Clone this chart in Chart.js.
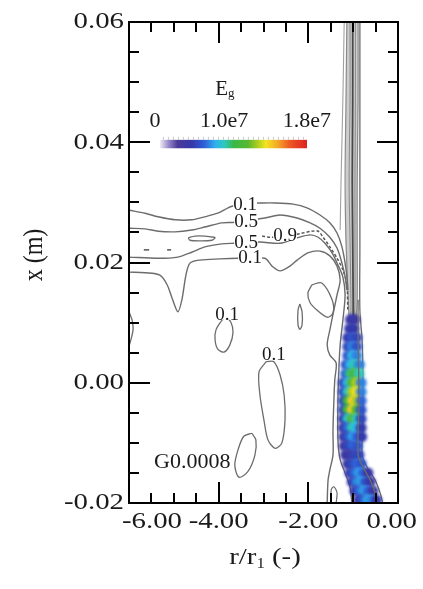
<!DOCTYPE html>
<html>
<head>
<meta charset="utf-8">
<script src="https://cdn.jsdelivr.net/npm/chart.js@4.4.1/dist/chart.umd.min.js"></script>
<style>
  html, body { margin: 0; padding: 0; background: #fff; }
  canvas { display: block; }
</style>
</head>
<body>
<canvas id="grafico" width="423" height="589"></canvas>
<script>
// ejes
const xTickValues = [-6, -4, -2, 0];
const xTickLabels = ["-6.00", "-4.00", "-2.00", "0.00"];
const yTickValues = [0.06, 0.04, 0.02, 0.00, -0.02];
const yTickLabels = ["0.06", "0.04", "0.02", "0.00", "-0.02"];

// contornos (r/r1, x en m)
const top01R = [-6.00, -5.64, -5.35, -4.97, -4.60, -4.31, -4.02, -3.79, -3.68, -3.41, -3.12, -2.74, -2.34, -2.03, -1.74, -1.52, -1.36, -1.25, -1.18, -1.14, -1.12];
const top01X = [0.0287, 0.0282, 0.0276, 0.0271, 0.0271, 0.0276, 0.0282, 0.0291, 0.0294, 0.0299, 0.0299, 0.0299, 0.0297, 0.0291, 0.0279, 0.0266, 0.0249, 0.0226, 0.0199, 0.0176, 0.0154];

const up05R = [-6.00, -5.64, -5.35, -4.97, -4.60, -4.31, -3.93, -3.64, -2.97, -2.63, -2.25, -1.96, -1.74, -1.52, -1.36, -1.25, -1.18, -1.14];
const up05X = [0.0257, 0.0256, 0.0252, 0.0251, 0.0254, 0.0259, 0.0266, 0.0267, 0.0274, 0.0279, 0.0274, 0.0266, 0.0257, 0.0242, 0.0224, 0.0199, 0.0176, 0.0154];

const lo05R = [-6.00, -5.35, -4.91, -4.60, -4.31, -3.93, -3.64, -3.08, -2.63, -2.25, -1.96, -1.78, -1.63, -1.47, -1.34, -1.23, -1.18, -1.23, -1.29, -1.32, -1.34, -1.34, -1.29, -1.18, -1.07, -1.03];
const lo05X = [0.0209, 0.0207, 0.0209, 0.0217, 0.0226, 0.0231, 0.0232, 0.0234, 0.0232, 0.0241, 0.0246, 0.0242, 0.0232, 0.0216, 0.0196, 0.0176, 0.0146, 0.0104, 0.0063, 0.0021, -0.0029, -0.0095, -0.0128, -0.0150, -0.0173, -0.0200];

const lo01R = [-6.00, -5.64, -5.31, -5.15, -5.04, -4.91, -4.82, -4.73, -4.64, -4.42, -3.97, -3.57, -2.97, -2.81, -2.63, -2.41, -2.25, -2.01, -1.74, -1.52, -1.36, -1.29, -1.36, -1.43, -1.52, -1.58, -1.52, -1.38, -1.41, -1.43, -1.45, -1.45, -1.52, -1.56, -1.58];
const lo01X = [0.0184, 0.0183, 0.0179, 0.0163, 0.0141, 0.0118, 0.0138, 0.0179, 0.0199, 0.0204, 0.0206, 0.0207, 0.0207, 0.0194, 0.0186, 0.0194, 0.0204, 0.0216, 0.0219, 0.0211, 0.0194, 0.0171, 0.0146, 0.0121, 0.0088, 0.0063, 0.0046, 0.0033, 0.0005, -0.0029, -0.0079, -0.0120, -0.0145, -0.0162, -0.0200];

const c09R = [-3.03, -2.86, -2.57, -2.19, -1.92, -1.78, -1.67, -1.52, -1.36, -1.23, -1.14, -1.12];
const c09X = [0.0244, 0.0242, 0.0242, 0.0248, 0.0252, 0.0252, 0.0242, 0.0226, 0.0207, 0.0188, 0.0163, 0.0121];

const ell0R = [-4.68, -4.53, -4.31, -4.10, -4.08, -4.15, -4.42, -4.64, -4.68];
const ell0X = [0.0241, 0.0244, 0.0244, 0.0242, 0.0241, 0.0237, 0.0236, 0.0237, 0.0241];

const dash1R = [-5.67, -5.55];
const dash1X = [0.0221, 0.0221];
const dash2R = [-5.15, -5.06];
const dash2X = [0.0221, 0.0221];

const isleR = [-1.92, -1.70, -1.47, -1.45, -1.58, -1.81, -1.96, -2.01, -1.92];
const isleX = [0.0163, 0.0166, 0.0138, 0.0116, 0.0109, 0.0121, 0.0133, 0.0149, 0.0163];

const thinR = [-2.19, -2.14, -2.14, -2.19, -2.23, -2.23, -2.19];
const thinX = [0.0131, 0.0118, 0.0096, 0.0089, 0.0096, 0.0121, 0.0131];

const ell1R = [-3.93, -4.06, -4.08, -4.02, -3.88, -3.75, -3.68, -3.73, -3.84, -3.93];
const ell1X = [0.0104, 0.0088, 0.0071, 0.0056, 0.0051, 0.0063, 0.0084, 0.0101, 0.0108, 0.0104];

const ell2R = [-2.94, -3.10, -3.08, -2.99, -2.90, -2.74, -2.59, -2.52, -2.54, -2.63, -2.77, -2.94];
const ell2X = [0.0035, 0.0018, -0.0020, -0.0062, -0.0095, -0.0109, -0.0100, -0.0062, -0.0020, 0.0013, 0.0035, 0.0035];

const ell3R = [-3.26, -3.44, -3.57, -3.64, -3.55, -3.35, -3.19, -3.17, -3.26];
const ell3X = [-0.0084, -0.0089, -0.0112, -0.0137, -0.0157, -0.0148, -0.0120, -0.0095, -0.0084];

const edgeR = [-6.00, -5.93, -5.91, -5.96, -6.00];
const edgeX = [0.0118, 0.0104, 0.0088, 0.0071, 0.0061];

const outR = [-1.20, -1.23, -1.27, -1.29];
const outX = [0.0600, 0.0470, 0.0337, 0.0254];

const rOutR = [-0.85, -0.85, -0.85, -0.85, -0.80, -0.78, -0.78, -0.80, -0.69, -0.51, -0.40, -0.34];
const rOutX = [0.0600, 0.0387, 0.0221, 0.0121, 0.0071, 0.0005, -0.0062, -0.0120, -0.0140, -0.0162, -0.0183, -0.0200];

const rInR = [-0.89, -0.89, -0.87, -0.89, -0.78, -0.62, -0.51, -0.47];
const rInX = [0.0138, 0.0071, -0.0029, -0.0120, -0.0140, -0.0162, -0.0183, -0.0200];

const dR = [-1.49, -1.49, -1.43, -1.36, -1.38];
const dX = [-0.0200, -0.0178, -0.0173, -0.0183, -0.0200];

// banda vertical cerca de r/r1 = -1
const bandX = [0.0605, 0.0470, 0.0337, 0.0237, 0.0138, 0.0104];
const band1R = [-1.14, -1.16, -1.18, -1.16, -1.11, -1.09];
const band2R = [-1.07, -1.07, -1.09, -1.07, -1.05, -1.05];
const band3R = [-1.01, -1.01, -1.02, -1.01, -1.00, -1.00];
const band4R = [-0.95, -0.95, -0.96, -0.96, -0.96, -0.97];
const band5R = [-0.89, -0.89, -0.91, -0.91, -0.91, -0.94];

// celdas de E_g (en 1e7), filas en x, paso 0.1 en r
const blobX  = [0.0105, 0.0090, 0.0075, 0.0060, 0.0045, 0.0030, 0.0015, 0.0000, -0.0015, -0.0030, -0.0045, -0.0060, -0.0075, -0.0090, -0.0105, -0.0120, -0.0135, -0.0150, -0.0165, -0.0180, -0.0195];
const blobR0 = [-1.06, -1.08, -1.12, -1.12, -1.12, -1.16, -1.17, -1.22, -1.22, -1.22, -1.22, -1.22, -1.22, -1.21, -1.20, -1.17, -1.12, -1.07, -1.02, -0.96, -0.88];
const blobE  = [
  [0.35, 0.35],
  [0.40, 0.40],
  [0.40, 0.50, 0.45],
  [0.45, 0.60, 0.50],
  [0.50, 0.70, 0.60],
  [0.50, 0.70, 0.80, 0.60],
  [0.55, 0.85, 1.00, 0.80],
  [0.45, 0.70, 1.05, 1.20, 0.60],
  [0.45, 0.75, 1.20, 1.30, 0.60],
  [0.45, 0.90, 1.35, 1.20, 0.55],
  [0.45, 0.95, 1.35, 1.05, 0.50],
  [0.40, 0.75, 1.05, 0.80, 0.45],
  [0.35, 0.55, 0.80, 0.70, 0.40],
  [0.35, 0.50, 0.65, 0.55, 0.40],
  [0.30, 0.45, 0.55, 0.50],
  [0.35, 0.30, 0.45, 0.45],
  [0.35, 0.45, 0.55, 0.50],
  [0.40, 0.55, 0.65, 0.55, 0.35],
  [0.40, 0.60, 0.65, 0.50, 0.35],
  [0.40, 0.55, 0.65, 0.55, 0.35],
  [0.35, 0.50, 0.65, 0.60, 0.40]
];
const eMax = 1.8;

// etiquetas de contorno
const etiquetas = ["0.1", "0.5", "0.5", "0.9", "0.1", "0.1", "0.1"];
const etiquetasR = [-3.41, -3.39, -3.39, -2.52, -3.30, -3.81, -2.77];
const etiquetasX = [0.0296, 0.0267, 0.0232, 0.0244, 0.0207, 0.0113, 0.0046];

// barra de color
const cbarLabels = ["0", "1.0e7", "1.8e7"];
const cbarLabelR = [-5.42, -3.88, -2.03];

const cmap = [
  [0.00, [240, 236, 246]], [0.06, [150, 135, 200]], [0.12, [74, 58, 152]], [0.22, [52, 56, 170]],
  [0.30, [47, 95, 216]], [0.38, [46, 180, 236]], [0.44, [46, 200, 190]], [0.50, [56, 184, 72]],
  [0.60, [90, 184, 48]], [0.66, [168, 204, 32]], [0.72, [242, 228, 34]], [0.80, [244, 168, 40]],
  [0.88, [236, 90, 36]], [1.00, [222, 32, 32]]
];

function colorEn(f) {
  f = Math.max(0, Math.min(1, f));
  for (let i = 1; i < cmap.length; i++) {
    if (f <= cmap[i][0]) {
      const [f0, c0] = cmap[i - 1];
      const [f1, c1] = cmap[i];
      const t = (f - f0) / (f1 - f0);
      const c = c0.map((v, k) => Math.round(v + (c1[k] - v) * t));
      return `rgb(${c[0]},${c[1]},${c[2]})`;
    }
  }
  return "rgb(222,32,32)";
}

function linea(rs, xs, color, ancho, extra) {
  return Object.assign({
    data: rs.map((r, i) => ({ x: r, y: xs[i] })),
    showLine: true,
    borderColor: color,
    borderWidth: ancho,
    pointRadius: 0,
    pointHoverRadius: 0,
    tension: 0.3,
    fill: false,
    clip: 0
  }, extra || {});
}

const celdas = [];
blobX.forEach((x, i) => {
  blobE[i].forEach((e, j) => celdas.push({ x: blobR0[i] + j * 0.1, y: x, e: e }));
});

const gris = "#6c6c6c";
const datasets = [
  linea(rInR, rInX, gris, 1.3),
  {
    label: "blob",
    data: celdas,
    showLine: false,
    pointRadius: 5.5,
    pointHoverRadius: 5.5,
    pointBorderWidth: 0,
    backgroundColor: c => (c.raw ? colorEn(c.raw.e / eMax) : "#000"),
    clip: 0
  },
  linea(top01R, top01X, gris, 1.4),
  linea(up05R, up05X, gris, 1.4),
  linea(lo05R, lo05X, gris, 1.4),
  linea(lo01R, lo01X, gris, 1.4),
  linea(c09R, c09X, "#555", 1.5, { borderDash: [3, 2] }),
  linea(ell0R, ell0X, gris, 1.3),
  linea(dash1R, dash1X, "#555", 1.5, { tension: 0 }),
  linea(dash2R, dash2X, "#555", 1.5, { tension: 0 }),
  linea(isleR, isleX, gris, 1.3),
  linea(thinR, thinX, gris, 1.3),
  linea(ell1R, ell1X, gris, 1.3),
  linea(ell2R, ell2X, gris, 1.3),
  linea(ell3R, ell3X, gris, 1.3),
  linea(edgeR, edgeX, gris, 1.3),
  linea(outR, outX, "#a0a0a0", 1.1),
  linea(rOutR, rOutX, gris, 1.3),
  linea(dR, dX, gris, 1.2),
  linea(band1R, bandX, "#8a8a8a", 1.2),
  linea(band2R, bandX, "#8a8a8a", 1),
  linea(band3R, bandX, "#4a4a4a", 1.8),
  linea(band4R, bandX, "#8a8a8a", 1),
  linea(band5R, bandX, "#8a8a8a", 1.2),
  linea(band1R.concat(band5R.slice().reverse()), bandX.concat(bandX.slice().reverse()), "rgba(0,0,0,0)", 0,
    { fill: "shape", backgroundColor: "#cdcdcd", tension: 0 })
];

function escribir(ctx, str, x, y, size, align, sx, base) {
  ctx.save();
  ctx.translate(x, y);
  ctx.scale(sx, 1);
  ctx.font = size + 'px "Liberation Serif", "Times New Roman", serif';
  ctx.textAlign = align;
  ctx.textBaseline = base || "middle";
  ctx.fillStyle = "#1a1a1a";
  ctx.fillText(str, 0, 0);
  ctx.restore();
}

function ancho(ctx, str, size, sx) {
  ctx.save();
  ctx.font = size + 'px "Liberation Serif", "Times New Roman", serif';
  const w = ctx.measureText(str).width * sx;
  ctx.restore();
  return w;
}

// difumina las celdas como en la figura original
const difuso = {
  id: "difuso",
  beforeDatasetDraw(chart, args) {
    if (args.meta._dataset.label === "blob") {
      chart.ctx.save();
      chart.ctx.filter = "blur(1.6px)";
    }
  },
  afterDatasetDraw(chart, args) {
    if (args.meta._dataset.label === "blob") chart.ctx.restore();
  }
};

const marco = {
  id: "marco",
  afterDatasetsDraw(chart) {
    const { ctx, chartArea: a, scales } = chart;
    const sx = scales.x, sy = scales.y;

    // etiquetas de contorno
    etiquetas.forEach((t, i) => {
      const px = sx.getPixelForValue(etiquetasR[i]);
      const py = sy.getPixelForValue(etiquetasX[i]);
      const w = ancho(ctx, t, 19, 1);
      ctx.fillStyle = "#fff";
      ctx.fillRect(px - w / 2, py - 5, w, 10);
      escribir(ctx, t, px, py, 19, "center", 1);
    });
    escribir(ctx, "G0.0008", sx.getPixelForValue(-4.59), sy.getPixelForValue(-0.0133), 22, "center", 1);

    // barra de color
    const b0 = sx.getPixelForValue(-5.31), b1 = sx.getPixelForValue(-2.03);
    const bt = sy.getPixelForValue(0.0404), bb = sy.getPixelForValue(0.0390);
    const grad = ctx.createLinearGradient(b0, 0, b1, 0);
    cmap.forEach(([f, c]) => grad.addColorStop(f, `rgb(${c[0]},${c[1]},${c[2]})`));
    ctx.fillStyle = grad;
    ctx.fillRect(b0, bt, b1 - b0, bb - bt);
    ctx.strokeStyle = "#c8c8c8";
    ctx.lineWidth = 1;
    for (let p = b0 + 3; p <= b1; p += 5) {
      ctx.beginPath();
      ctx.moveTo(p + 0.5, bt - 3);
      ctx.lineTo(p + 0.5, bt);
      ctx.stroke();
    }
    const yl = sy.getPixelForValue(0.0435);
    cbarLabels.forEach((t, i) => escribir(ctx, t, sx.getPixelForValue(cbarLabelR[i]), yl, 22, "center", 1));
    const ex = sx.getPixelForValue(-3.79), ey = sy.getPixelForValue(0.0487);
    escribir(ctx, "E", ex, ey, 21, "right", 1);
    escribir(ctx, "g", ex, ey + 4, 13, "left", 1);

    // marco y marcas hacia dentro
    ctx.save();
    ctx.strokeStyle = "#000";
    ctx.lineWidth = 2;
    ctx.strokeRect(a.left, a.top, a.right - a.left, a.bottom - a.top);
    ctx.beginPath();
    for (let i = 0; i <= 12; i++) {
      const px = Math.round(sx.getPixelForValue(-6 + i * 0.5));
      const len = i % 4 === 0 ? 21 : 10;
      ctx.moveTo(px, a.bottom); ctx.lineTo(px, a.bottom - len);
      ctx.moveTo(px, a.top); ctx.lineTo(px, a.top + len);
    }
    for (let i = 0; i <= 16; i++) {
      const py = Math.round(sy.getPixelForValue(-0.02 + i * 0.005));
      const len = i % 4 === 0 ? 21 : 10;
      ctx.moveTo(a.left, py); ctx.lineTo(a.left + len, py);
      ctx.moveTo(a.right, py); ctx.lineTo(a.right - len, py);
    }
    ctx.stroke();
    ctx.restore();
  },
  afterDraw(chart) {
    const { ctx, chartArea: a, scales } = chart;
    const sx = scales.x, sy = scales.y;
    const k = 1.2, fs = 24;

    yTickValues.forEach((v, i) => {
      escribir(ctx, yTickLabels[i], a.left - 5, sy.getPixelForValue(v), fs, "right", k);
    });
    xTickValues.forEach((v, i) => {
      const w = ancho(ctx, xTickLabels[i], fs, k);
      let cx = sx.getPixelForValue(v);
      cx = Math.max(a.left - 7 + w / 2, Math.min(a.right + 19 - w / 2, cx));
      escribir(ctx, xTickLabels[i], cx, a.bottom + 19, fs, "center", k);
    });

    // titulo eje x: r/r1 (-)
    const base = a.bottom + 61;
    const w1 = ancho(ctx, "r/r", fs, k), w2 = ancho(ctx, "1", 14, k), w3 = ancho(ctx, " (-)", fs, k);
    let x0 = 265 - (w1 + w2 + w3) / 2;
    escribir(ctx, "r/r", x0, base, fs, "left", k, "alphabetic");
    escribir(ctx, "1", x0 + w1, base + 4, 14, "left", k, "alphabetic");
    escribir(ctx, " (-)", x0 + w1 + w2, base, fs, "left", k, "alphabetic");

    // titulo eje y: x (m)
    ctx.save();
    ctx.translate(35, 255);
    ctx.scale(1.1, 1);
    ctx.rotate(-Math.PI / 2);
    ctx.font = '24px "Liberation Serif", "Times New Roman", serif';
    ctx.textAlign = "center";
    ctx.textBaseline = "middle";
    ctx.fillStyle = "#1a1a1a";
    ctx.fillText("x (m)", 0, 0);
    ctx.restore();
  }
};

new Chart(document.getElementById("grafico"), {
  type: "scatter",
  data: { datasets: datasets },
  options: {
    responsive: false,
    animation: false,
    devicePixelRatio: 1,
    layout: { padding: { left: 0, right: 25, top: 22, bottom: 0 } },
    plugins: { legend: { display: false }, tooltip: { enabled: false } },
    events: [],
    scales: {
      x: {
        type: "linear", min: -6, max: 0,
        grid: { display: false }, border: { display: false },
        ticks: { display: false },
        afterFit(s) { s.height = 86; }
      },
      y: {
        type: "linear", min: -0.02, max: 0.06,
        grid: { display: false }, border: { display: false },
        ticks: { display: false },
        afterFit(s) { s.width = 129; }
      }
    }
  },
  plugins: [difuso, marco]
});
</script>
</body>
</html>
